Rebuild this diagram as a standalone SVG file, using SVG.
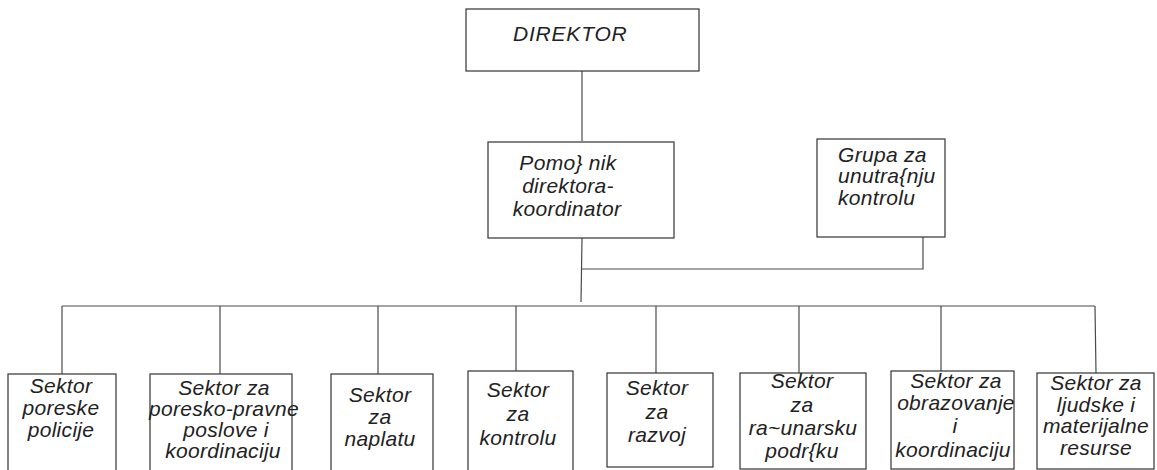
<svg xmlns="http://www.w3.org/2000/svg" width="1157" height="470" viewBox="0 0 1157 470">
  <style>
    .box { fill: #ffffff; stroke: #333333; stroke-width: 1.2; }
    .link { fill: none; stroke: #4a4a4a; stroke-width: 1.2; }
    text { font-family: "Liberation Sans", Arial, sans-serif; font-style: italic; font-size: 21px; fill: #222222; letter-spacing: 0.3px; }
    .c { text-anchor: middle; }
  </style>
  <rect width="1157" height="470" fill="#ffffff"/>

  <!-- connectors -->
  <g id="connectors">
    <line class="link" x1="582" y1="71" x2="582" y2="141"/>
    <line class="link" x1="582" y1="238" x2="581" y2="302"/>
    <polyline class="link" points="582,269 923,269 923,237"/>
    <line class="link" x1="62" y1="306" x2="1095" y2="306"/>
    <line class="link" x1="62" y1="306" x2="62" y2="374"/>
    <line class="link" x1="220" y1="306" x2="220" y2="374"/>
    <line class="link" x1="378" y1="306" x2="378" y2="374"/>
    <line class="link" x1="516" y1="306" x2="516" y2="371"/>
    <line class="link" x1="656" y1="306" x2="656" y2="373"/>
    <line class="link" x1="799" y1="306" x2="799" y2="373"/>
    <line class="link" x1="941" y1="306" x2="941" y2="371"/>
    <line class="link" x1="1095" y1="306" x2="1096" y2="373"/>
  </g>

  <g id="direktor">
    <rect class="box" x="466" y="9" width="233" height="62"/>
    <text x="513" y="41" style="font-size:21px;letter-spacing:0.8px">DIREKTOR</text>
  </g>

  <g id="pomocnik">
    <rect class="box" x="488" y="142" width="186" height="96"/>
    <text class="c" x="568" y="170">Pomo} nik</text>
    <text class="c" x="568" y="193">direktora-</text>
    <text class="c" x="567" y="216">koordinator</text>
  </g>

  <g id="grupa">
    <rect class="box" x="817" y="139" width="128" height="98"/>
    <text x="838" y="162">Grupa za</text>
    <text x="838" y="183">unutra{nju</text>
    <text x="838" y="205">kontrolu</text>
  </g>

  <g id="sektor-policija">
    <rect class="box" x="8" y="374" width="108" height="104"/>
    <text class="c" x="61" y="393">Sektor</text>
    <text class="c" x="61" y="415">poreske</text>
    <text class="c" x="61" y="437">policije</text>
  </g>

  <g id="sektor-pravni">
    <rect class="box" x="150" y="374" width="142" height="104"/>
    <text class="c" x="224" y="395">Sektor za</text>
    <text class="c" x="224" y="416">poresko-pravne</text>
    <text class="c" x="226" y="437">poslove i</text>
    <text class="c" x="223" y="458">koordinaciju</text>
  </g>

  <g id="sektor-naplata">
    <rect class="box" x="331" y="374" width="102" height="104"/>
    <text class="c" x="380" y="402">Sektor</text>
    <text class="c" x="380" y="424">za</text>
    <text class="c" x="380" y="446">naplatu</text>
  </g>

  <g id="sektor-kontrola">
    <rect class="box" x="468" y="371" width="105" height="107"/>
    <text class="c" x="518" y="397">Sektor</text>
    <text class="c" x="518" y="421">za</text>
    <text class="c" x="518" y="445">kontrolu</text>
  </g>

  <g id="sektor-razvoj">
    <rect class="box" x="607" y="373" width="106" height="94"/>
    <text class="c" x="657" y="395">Sektor</text>
    <text class="c" x="657" y="419">za</text>
    <text class="c" x="657" y="442">razvoj</text>
  </g>

  <g id="sektor-racunarska">
    <rect class="box" x="740" y="373" width="126" height="96"/>
    <text class="c" x="802" y="388">Sektor</text>
    <text class="c" x="802" y="412">za</text>
    <text class="c" x="803" y="435">ra~unarsku</text>
    <text class="c" x="802" y="458">podr{ku</text>
  </g>

  <g id="sektor-obrazovanje">
    <rect class="box" x="891" y="371" width="123" height="98"/>
    <text class="c" x="956" y="388">Sektor za</text>
    <text class="c" x="956" y="410">obrazovanje</text>
    <text class="c" x="955" y="433">i</text>
    <text class="c" x="953" y="457">koordinaciju</text>
  </g>

  <g id="sektor-resursi">
    <rect class="box" x="1037" y="373" width="117" height="96"/>
    <text class="c" x="1096" y="390">Sektor za</text>
    <text class="c" x="1096" y="412">ljudske i</text>
    <text class="c" x="1096" y="433">materijalne</text>
    <text class="c" x="1096" y="455">resurse</text>
  </g>
</svg>
